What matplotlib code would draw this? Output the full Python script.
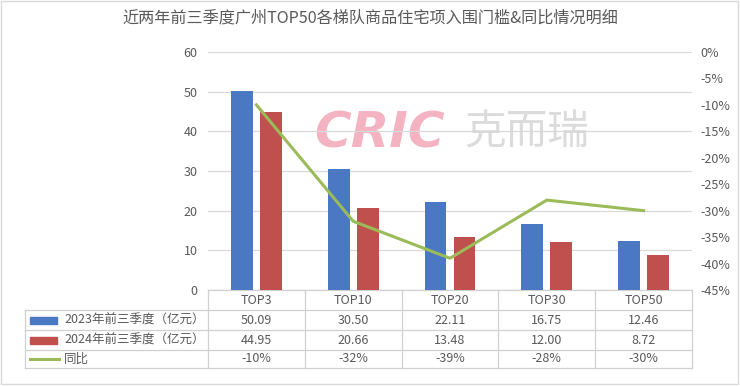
import matplotlib
matplotlib.use("Agg")
import matplotlib.pyplot as plt
from matplotlib.patches import Rectangle
import numpy as np

plt.rcParams['font.family'] = ['Noto Sans CJK SC', 'DejaVu Sans']

title = "近两年前三季度广州TOP50各梯队商品住宅项入围门槛&同比情况明细"
categories = ["TOP3", "TOP10", "TOP20", "TOP30", "TOP50"]
series_names = ["2023年前三季度（亿元）", "2024年前三季度（亿元）", "同比"]
v2023 = [50.09, 30.50, 22.11, 16.75, 12.46]
v2024 = [44.95, 20.66, 13.48, 12.00, 8.72]
yoy = [-10, -32, -39, -28, -30]
left_ticks = [0, 10, 20, 30, 40, 50, 60]
right_ticks = [0, -5, -10, -15, -20, -25, -30, -35, -40, -45]

BLUE = "#4A78C2"
RED = "#C0504D"
GREEN = "#9BBB59"
TXT = "#595959"
GRID = "#D9D9D9"

W, H = 740, 386
fig = plt.figure(figsize=(W / 100, H / 100), dpi=100)

# background overlay axes in pixel coords
bg = fig.add_axes([0, 0, 1, 1])
bg.set_xlim(0, W)
bg.set_ylim(H, 0)
bg.axis("off")
bg.add_patch(Rectangle((1, 1), W - 3, H - 3, fill=False, ec="#D9D9D9", lw=1))

# main axes
x0, x1 = 208, 692
ytop, ybot = 52, 290
ax = fig.add_axes([x0 / W, 1 - ybot / H, (x1 - x0) / W, (ybot - ytop) / H])
ax.set_zorder(2)
ax.patch.set_alpha(0)
n = len(categories)
x = np.arange(n)
bw = 0.225
ax.bar(x - 0.15, v2023, bw, color=BLUE, zorder=3)
ax.bar(x + 0.15, v2024, bw, color=RED, zorder=3)
ax.set_xlim(-0.5, n - 0.5)
ax.set_ylim(0, 60)
ax.set_yticks(left_ticks)
ax.set_yticklabels([str(t) for t in left_ticks], color=TXT, fontsize=9)
ax.yaxis.grid(True, color=GRID, lw=0.9)
ax.set_axisbelow(True)
ax.set_xticks([])
for s in ax.spines.values():
    s.set_visible(False)
ax.tick_params(axis="y", length=0, pad=7.5)

ax2 = ax.twinx()
ax2.plot(x, yoy, color=GREEN, lw=2.2, zorder=4)
ax2.set_ylim(-45, 0)
ax2.set_yticks(right_ticks)
ax2.set_yticklabels([f"{t}%" for t in right_ticks], color=TXT, fontsize=9)
ax2.tick_params(axis="y", length=0, pad=6)
for s in ax2.spines.values():
    s.set_visible(False)

# title
bg.text(370, 18, title, ha="center", va="center", fontsize=11.6, color=TXT)

# watermark
bg.text(380, 133, "CRIC", ha="center", va="center", fontsize=36, color="#F2A0B2",
        fontstyle="italic", fontweight="heavy", alpha=0.8, family="DejaVu Sans")
bg.text(527, 133, "克而瑞", ha="center", va="center", fontsize=30, color="#C4C4C4",
        alpha=0.6)

# data table
rows_y = [290, 310, 330, 350, 368]
tl = 25
col_w = (x1 - x0) / n
cols_x = [x0 + i * col_w for i in range(n + 1)]
lc = "#D0D0D0"
bg.plot([x0, x1], [rows_y[0], rows_y[0]], color=lc, lw=0.9)
for cx in cols_x:
    bg.plot([cx, cx], [rows_y[0], rows_y[-1]], color=lc, lw=0.9)
for ry in rows_y[1:]:
    bg.plot([tl, x1], [ry, ry], color=lc, lw=0.9)
bg.plot([tl, tl], [rows_y[1], rows_y[-1]], color=lc, lw=0.9)

fs = 9
for i, c in enumerate(categories):
    cx = x0 + (i + 0.5) * col_w
    bg.text(cx, (rows_y[0] + rows_y[1]) / 2, c, ha="center", va="center", fontsize=fs, color=TXT)
    bg.text(cx, (rows_y[1] + rows_y[2]) / 2, f"{v2023[i]:.2f}", ha="center", va="center", fontsize=fs, color=TXT)
    bg.text(cx, (rows_y[2] + rows_y[3]) / 2, f"{v2024[i]:.2f}", ha="center", va="center", fontsize=fs, color=TXT)
    bg.text(cx, (rows_y[3] + rows_y[4]) / 2, f"{yoy[i]}%", ha="center", va="center", fontsize=fs, color=TXT)

# legend keys
for k, (name, col) in enumerate(zip(series_names, [BLUE, RED, GREEN])):
    cy = (rows_y[k + 1] + rows_y[k + 2]) / 2
    if k < 2:
        bg.add_patch(Rectangle((30, cy - 3.5), 27, 7, color=col))
    else:
        bg.plot([30, 59], [cy, cy], color=col, lw=2.2)
    bg.text(64, cy, name, ha="left", va="center", fontsize=fs, color=TXT)

fig.savefig("out.png", dpi=100)
